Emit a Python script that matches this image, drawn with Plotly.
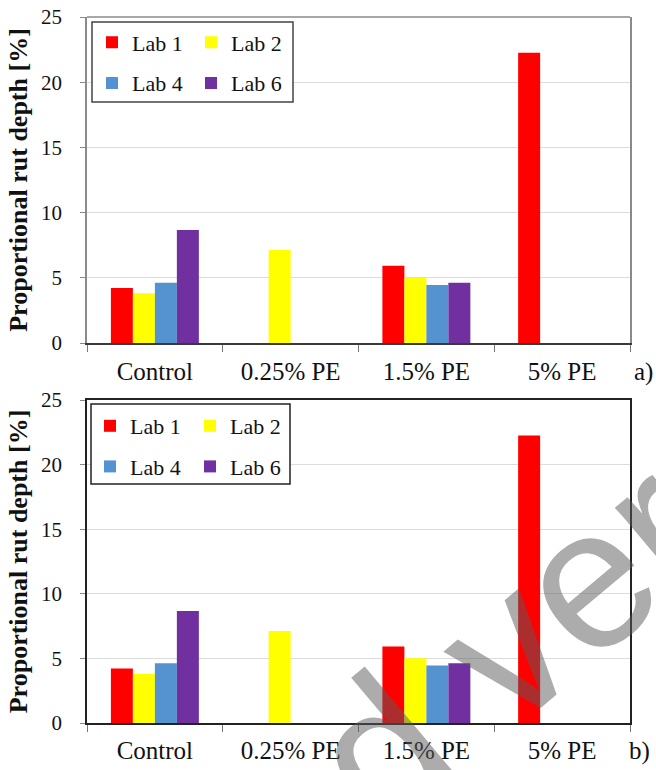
import plotly.graph_objects as go

# Rut depth results per mixture and laboratory
categories = ["Control", "0.25% PE", "1.5% PE", "5% PE"]
labs = ["Lab 1", "Lab 2", "Lab 4", "Lab 6"]
lab1 = [4.22, None, 5.93, 22.26]
lab2 = [3.81, 7.13, 5.01, None]
lab4 = [4.62, None, 4.45, None]
lab6 = [8.67, None, 4.62, None]
series = [lab1, lab2, lab4, lab6]
colors = ["#ff0000", "#ffff00", "#5592d0", "#7030a0"]
y_ticks = [0, 5, 10, 15, 20, 25]

SERIF = "Liberation Serif"

# legend column for each lab (two columns: Lab 1/Lab 4 and Lab 2/Lab 6)
top_legends = {"Lab 1": "legend", "Lab 4": "legend", "Lab 2": "legend3", "Lab 6": "legend3"}
bot_legends = {"Lab 1": "legend2", "Lab 4": "legend2", "Lab 2": "legend4", "Lab 6": "legend4"}

fig = go.Figure()
for name, vals, col in zip(labs, series, colors):
    fig.add_trace(go.Bar(
        x=categories, y=vals, name=name, marker=dict(color=col, line=dict(width=0)),
        xaxis="x", yaxis="y", legend=top_legends[name], legendgroup="a" + name,
    ))
for name, vals, col in zip(labs, series, colors):
    fig.add_trace(go.Bar(
        x=categories, y=vals, name=name, marker=dict(color=col, line=dict(width=0)),
        xaxis="x2", yaxis="y2", legend=bot_legends[name], legendgroup="b" + name,
    ))

W, H = 656, 770
L, R, T, B = 87, 26, 17, 47
PW, PH = W - L - R, H - T - B


def px(x):
    return (x - L) / PW


def py(y):
    return (H - B - y) / PH


def xaxis_style(anchor, linecolor, mirror, standoff):
    return dict(
        anchor=anchor, domain=[0, 1], type="category", automargin=False,
        tickson="boundaries", ticks="outside", ticklen=7, tickcolor="#777",
        ticklabelstandoff=standoff,
        tickfont=dict(family=SERIF, size=25, color="#111"),
        showline=True, linecolor=linecolor, linewidth=1.5, mirror=mirror,
        showgrid=False, zeroline=False,
    )


def yaxis_style(anchor, domain, linecolor, mirror):
    return dict(
        anchor=anchor, domain=domain, range=[0, 25], tickvals=y_ticks, automargin=False,
        ticks="outside", ticklen=5, tickcolor="#888", ticklabelstandoff=14,
        tickfont=dict(family=SERIF, size=21, color="#111"),
        showline=True, linecolor=linecolor, linewidth=1.5, mirror=mirror,
        showgrid=True, gridcolor="#dcdcdc", gridwidth=1, zeroline=False,
        title=dict(text="<b>Proportional rut depth [%]</b>", standoff=6,
                   font=dict(family=SERIF, size=26, color="#111")),
    )


def legend_style(x, y):
    return dict(
        x=x, y=y, xanchor="left", yanchor="top", orientation="v",
        bgcolor="rgba(0,0,0,0)", borderwidth=0, traceorder="grouped",
        tracegroupgap=9, font=dict(family=SERIF, size=22, color="#111"),
    )


fig.update_layout(
    width=W, height=H, margin=dict(l=L, r=R, t=T, b=B, autoexpand=False),
    font=dict(family=SERIF, color="#111"),
    paper_bgcolor="white", plot_bgcolor="white",
    barmode="group", bargap=0.352, bargroupgap=0,
    xaxis=xaxis_style("y", "#3a3a3a", False, 5),
    yaxis=yaxis_style("x", [py(343), 1], "#8a8a8a", True),
    xaxis2=xaxis_style("y2", "#222", True, 4),
    yaxis2=yaxis_style("x2", [0, py(400)], "#222", True),
    legend=legend_style(px(92), py(21.5)),
    legend3=legend_style(px(191), py(21.5)),
    legend2=legend_style(px(90), py(405)),
    legend4=legend_style(px(190), py(405)),
    showlegend=True,
)

shapes = [
    # top frame edge of the upper panel
    dict(type="line", xref="x domain", yref="y domain", x0=0, x1=1, y0=1, y1=1,
         line=dict(color="#8a8a8a", width=1.5), layer="above"),
    # legend boxes
    dict(type="rect", xref="paper", yref="paper", x0=px(92), x1=px(293), y0=py(102), y1=py(22),
         line=dict(color="#444", width=1.5), fillcolor="white", layer="above"),
    dict(type="rect", xref="paper", yref="paper", x0=px(91), x1=px(290), y0=py(484), y1=py(404),
         line=dict(color="#222", width=1.5), fillcolor="white", layer="above"),
]
fig.update_layout(shapes=shapes)

annotations = [
    dict(text="a)", xref="paper", yref="paper", x=px(632), y=py(372), xanchor="left", yanchor="middle",
         showarrow=False, font=dict(family=SERIF, size=25, color="#111")),
    dict(text="b)", xref="paper", yref="paper", x=px(627), y=py(751), xanchor="left", yanchor="middle",
         showarrow=False, font=dict(family=SERIF, size=25, color="#111")),
    dict(text="Accepted version", xref="paper", yref="paper", x=px(372), y=py(758),
         xanchor="center", yanchor="middle", textangle=-40, showarrow=False,
         font=dict(family="Liberation Sans", size=200, color="rgba(90,90,90,0.5)")),
]
fig.update_layout(annotations=annotations)

fig.write_html("out.html")
